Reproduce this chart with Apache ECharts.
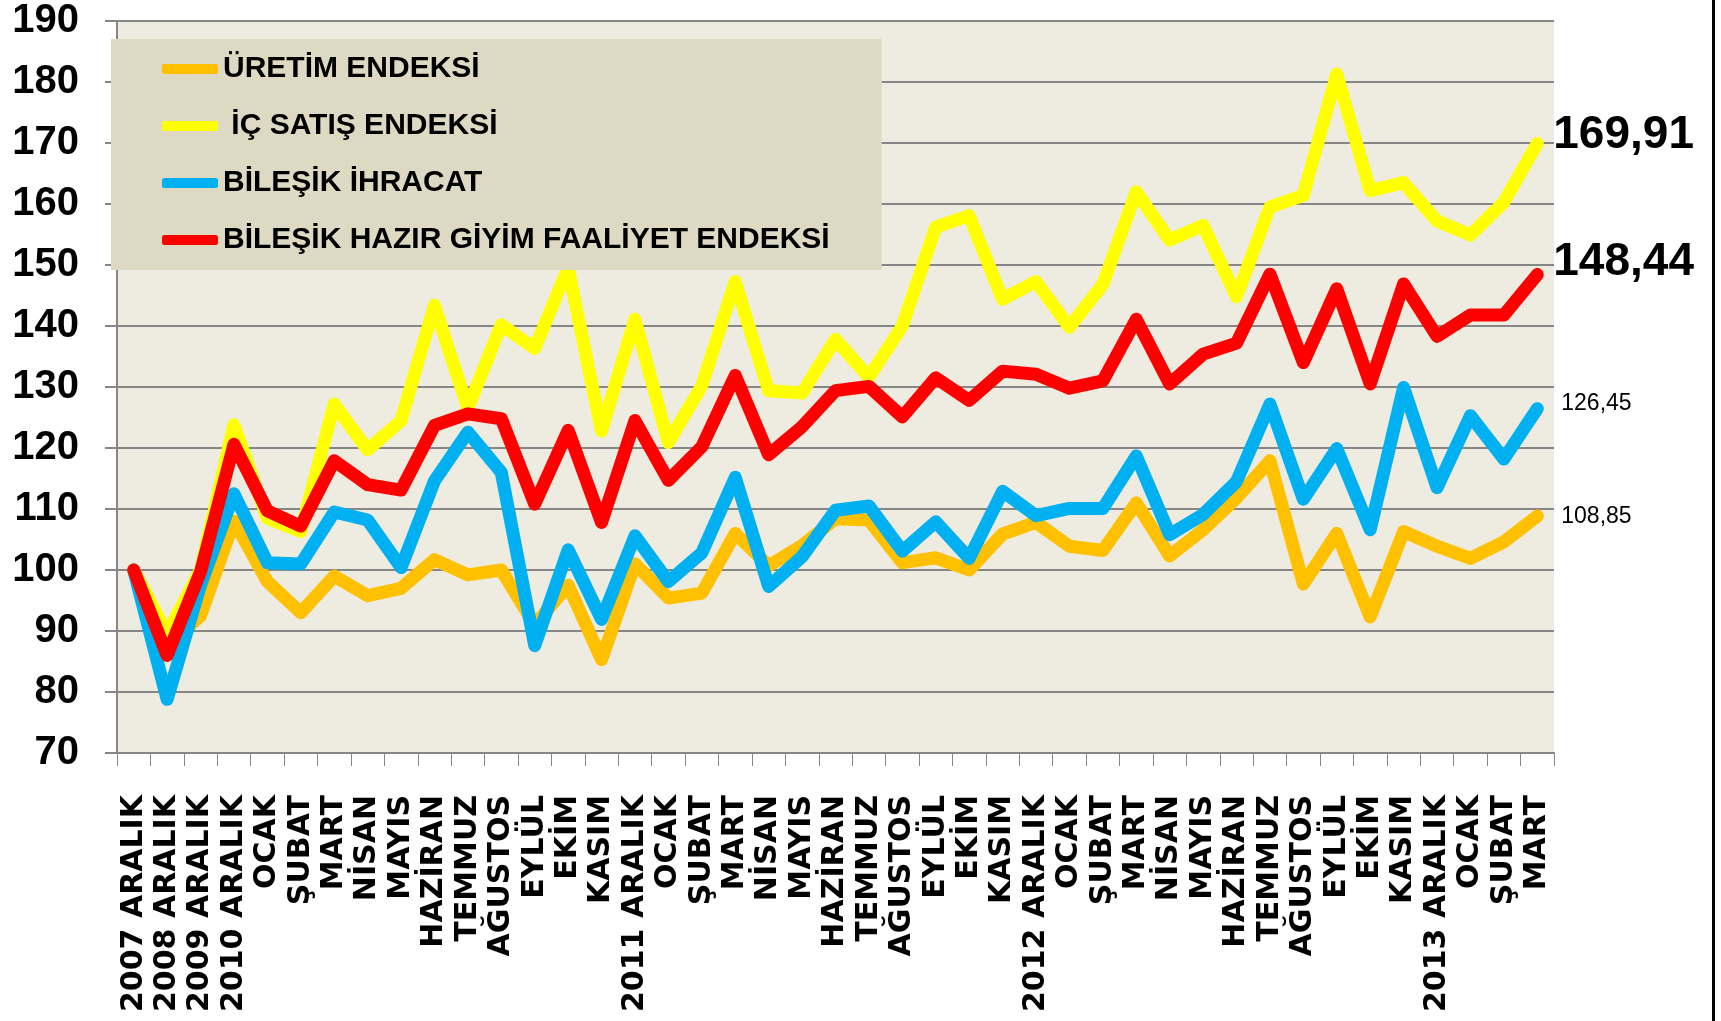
<!DOCTYPE html>
<html>
<head>
<meta charset="utf-8">
<script src="https://cdn.jsdelivr.net/npm/echarts/dist/echarts.min.js"></script>
<style>
  body { margin: 0; background: #fff; }
  #chart { width: 1721px; height: 1021px; }
</style>
</head>
<body>
<div id="chart"></div>
<script>
var categories = ['2007 ARALIK', '2008 ARALIK', '2009 ARALIK', '2010 ARALIK',
	'OCAK', 'ŞUBAT', 'MART', 'NİSAN', 'MAYIS', 'HAZİRAN', 'TEMMUZ', 'AĞUSTOS', 'EYLÜL', 'EKİM', 'KASIM',
	'2011 ARALIK',
	'OCAK', 'ŞUBAT', 'MART', 'NİSAN', 'MAYIS', 'HAZİRAN', 'TEMMUZ', 'AĞUSTOS', 'EYLÜL', 'EKİM', 'KASIM',
	'2012 ARALIK',
	'OCAK', 'ŞUBAT', 'MART', 'NİSAN', 'MAYIS', 'HAZİRAN', 'TEMMUZ', 'AĞUSTOS', 'EYLÜL', 'EKİM', 'KASIM',
	'2013 ARALIK',
	'OCAK', 'ŞUBAT', 'MART'];

var seriesNames = ['ÜRETİM ENDEKSİ', ' İÇ SATIŞ ENDEKSİ', 'BİLEŞİK İHRACAT', 'BİLEŞİK HAZIR GİYİM FAALİYET ENDEKSİ'];

var uretim = [100, 87.5, 92.5, 108, 98.1, 93, 99, 95.8, 97, 101.7, 99.2, 100, 91, 97.5, 85.3,
	101, 95.4, 96.2, 106, 100.7, 104, 108.4, 108.2, 101.2, 102, 100, 105.9,
	107.8, 103.9, 103.2, 111, 102.3, 106.6, 111.8, 117.9, 97.7, 106, 92.3, 106.3,
	103.9, 101.9, 104.6, 108.85];

var icSatis = [100, 89.5, 100, 123.8, 108.5, 106.3, 127.2, 119.7, 124.5, 143.4, 126.5, 140.2, 136.3, 149.5, 122.8,
	141.1, 120.9, 130.2, 147.3, 129.4, 129, 137.8, 131.6, 140, 156.2, 158.1, 144.4,
	147.3, 139.8, 146.8, 162, 154.1, 156.5, 144.8, 159.5, 161.4, 181.3, 162.2, 163.5,
	157.2, 154.9, 160.3, 169.91];

var ihracat = [100, 78.8, 97.5, 112.5, 101.2, 101, 109.5, 108.2, 100.4, 114.6, 122.6, 116, 87.6, 103.3, 91.9,
	105.6, 98.1, 102.8, 115.2, 97.3, 102.2, 109.8, 110.5, 103.1, 107.9, 101.9, 112.9,
	108.9, 110.1, 110.1, 118.7, 105.8, 109.1, 114.5, 127.2, 111.6, 119.9, 106.6, 129.9,
	113.5, 125.3, 118.2, 126.45];

var hazirGiyim = [100, 86, 99.7, 120.6, 109.7, 107.2, 117.9, 114, 113.1, 123.7, 125.6, 124.8, 110.8, 122.9, 107.8,
	124.5, 114.7, 120.2, 131.9, 118.9, 123.5, 129.4, 130.1, 125.1, 131.5, 127.8, 132.6,
	132.1, 129.8, 131, 141.1, 130.5, 135.4, 137.2, 148.5, 134, 146.1, 130.5, 146.9,
	138.3, 141.8, 141.8, 148.44];

var yTicks = [70, 80, 90, 100, 110, 120, 130, 140, 150, 160, 170, 180, 190];

var colors = ['#FFC000', '#FFFF00', '#00B0F0', '#FF0000'];

var commaFmt = function(p) {
	return p.value.toFixed(2).replace('.', ',');
};

var makeSeries = function(idx, data, bigLabel, dy) {
	return {
		name: seriesNames[idx],
		type: 'line',
		data: data,
		showSymbol: false,
		symbol: 'none',
		color: colors[idx],
		lineStyle: {
			width: 13,
			color: colors[idx],
			join: 'round',
			cap: 'round'
		},
		endLabel: {
			show: true,
			formatter: commaFmt,
			distance: bigLabel ? 16 : 24,
			offset: [0, dy],
			color: '#000',
			fontFamily: 'Liberation Sans',
			fontWeight: bigLabel ? 'bold' : 'normal',
			fontSize: bigLabel ? 46 : 23
		}
	};
};

var chart = echarts.init(document.getElementById('chart'));
chart.setOption({
	animation: false,
	backgroundColor: '#fff',
	grid: {
		left: 117,
		right: 167,
		top: 21,
		bottom: 268,
		show: true,
		backgroundColor: '#EEECE1',
		borderWidth: 0
	},
	legend: {
		orient: 'vertical',
		left: 111,
		top: 39,
		padding: [15, 52, 15, 51],
		itemGap: 27,
		itemWidth: 56,
		itemHeight: 10,
		icon: 'roundRect',
		backgroundColor: '#DDD9C3',
		data: seriesNames,
		textStyle: {
			fontFamily: 'Liberation Sans',
			fontWeight: 'bold',
			fontSize: 30,
			color: '#000'
		}
	},
	xAxis: {
		type: 'category',
		data: categories,
		boundaryGap: true,
		axisLine: { lineStyle: { color: '#868686', width: 2 } },
		axisTick: { show: true, length: 13, lineStyle: { color: '#868686', width: 1 } },
		axisLabel: {
			interval: 0,
			rotate: 90,
			margin: 42,
			color: '#000',
			fontFamily: 'DejaVu Sans',
			fontWeight: 'bold',
			fontSize: 30
		},
		splitLine: { show: false }
	},
	yAxis: {
		type: 'value',
		min: yTicks[0],
		max: yTicks[yTicks.length - 1],
		interval: 10,
		axisLine: { show: true, lineStyle: { color: '#868686', width: 2 } },
		axisTick: { show: true, length: 12, lineStyle: { color: '#868686', width: 2 } },
		axisLabel: {
			margin: 38,
			color: '#000',
			fontFamily: 'Liberation Sans',
			fontWeight: 'bold',
			fontSize: 40
		},
		splitLine: { lineStyle: { color: '#868686', width: 2 } }
	},
	graphic: [{
		type: 'rect',
		left: 1712,
		top: 0,
		shape: { width: 3, height: 1021 },
		style: { fill: '#000' }
	}],
	series: [
		makeSeries(0, uretim, false, 1),
		makeSeries(1, icSatis, true, -8),
		makeSeries(2, ihracat, false, -5),
		makeSeries(3, hazirGiyim, true, -12)
	]
});
</script>
</body>
</html>
